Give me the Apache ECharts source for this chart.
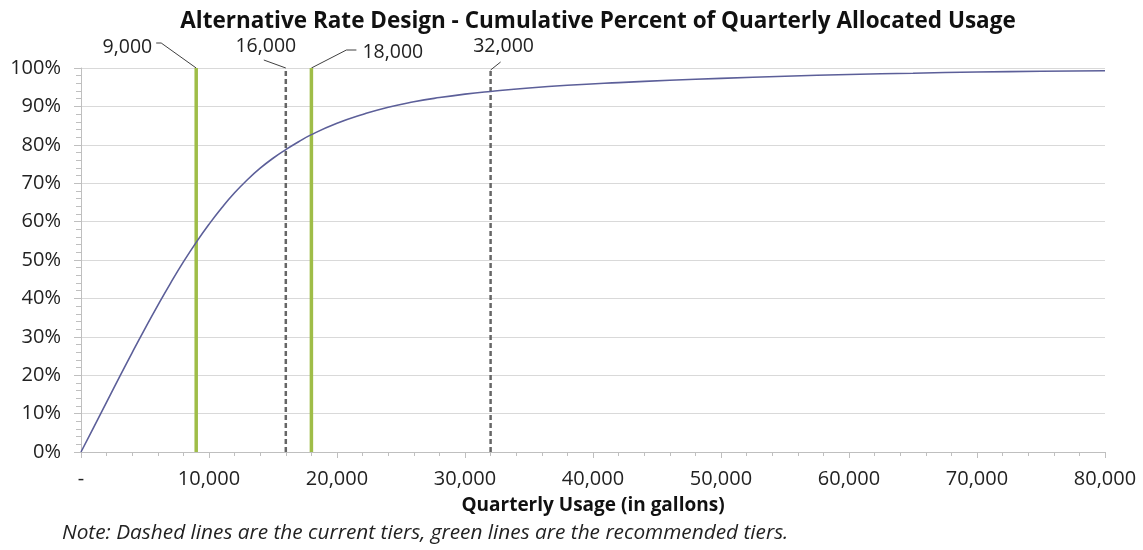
<!DOCTYPE html>
<html>
<head>
<meta charset="utf-8">
<script src="https://cdn.jsdelivr.net/npm/echarts@6/dist/echarts.min.js"></script>
<style>
  html, body { margin: 0; padding: 0; background: #ffffff; }
  #chart { width: 1143px; height: 550px; }
</style>
</head>
<body>
<div id="chart"></div>
<script>
// Quarterly usage (gallons) and cumulative percent of allocated usage
const usageGallons = [0, 1000, 2000, 3000, 4000, 5000, 6000, 7000, 8000, 9000, 10000,
  11000, 12000, 13000, 14000, 15000, 16000, 17000, 18000, 20000, 22000, 24000, 26000,
  28000, 30000, 32000, 35000, 38000, 42000, 46000, 50000, 55000, 60000, 65000, 70000,
  75000, 80000];
const cumulativePct = [0, 6.5, 13.0, 19.5, 25.9, 32.15, 38.2, 44.0, 49.5, 54.6, 59.3,
  63.6, 67.5, 70.9, 73.9, 76.5, 78.75, 80.8, 82.65, 85.6, 87.9, 89.8, 91.2,
  92.3, 93.2, 93.9, 94.8, 95.5, 96.2, 96.8, 97.3, 97.85, 98.3, 98.65, 98.95,
  99.15, 99.3];

// Tier breakpoints
const currentTiers = [16000, 32000];
const recommendedTiers = [9000, 18000];

// Axis ticks
const xTickValues = [0, 10000, 20000, 30000, 40000, 50000, 60000, 70000, 80000];
const yTickValues = [0, 10, 20, 30, 40, 50, 60, 70, 80, 90, 100];

const FONT = '"Open Sans", "Liberation Sans", sans-serif';
const fmt = v => v.toLocaleString('en-US');

const GRID = { left: 81, right: 38, top: 68, bottom: 98 };
const chartWidth = 1143;

const chart = echarts.init(document.getElementById('chart'), null, { renderer: 'canvas' });

function tierSeries(tiers, style) {
  return tiers.map(t => ({
    type: 'line',
    data: [[t, 0], [t, 100]],
    symbol: 'none',
    silent: true,
    z: 3,
    lineStyle: style
  }));
}

const option = {
  backgroundColor: '#ffffff',
  animation: false,
  title: {
    text: 'Alternative Rate Design - Cumulative Percent of Quarterly Allocated Usage',
    // centred over the plot area
    left: GRID.left + (chartWidth - GRID.left - GRID.right) / 2,
    textAlign: 'center',
    top: 5,
    textStyle: { fontFamily: FONT, fontWeight: 'bold', fontSize: 22.5, color: '#111111' }
  },
  grid: GRID,
  xAxis: {
    type: 'value',
    min: xTickValues[0],
    max: xTickValues[xTickValues.length - 1],
    interval: xTickValues[1] - xTickValues[0],
    name: 'Quarterly Usage (in gallons)',
    nameLocation: 'middle',
    nameGap: 44,
    nameTextStyle: { fontFamily: FONT, fontWeight: 'bold', fontSize: 19, color: '#111111' },
    axisLine: { show: true, lineStyle: { color: '#bfbfbf', width: 1 } },
    axisTick: { show: true, length: 6, lineStyle: { color: '#bfbfbf' } },
    minorTick: { show: true, splitNumber: 5, length: 4, lineStyle: { color: '#bfbfbf' } },
    splitLine: { show: false },
    axisLabel: {
      margin: 17,
      fontFamily: FONT, fontSize: 20, color: '#222222',
      formatter: v => (v === 0 ? '-' : fmt(v))
    }
  },
  yAxis: {
    type: 'value',
    min: yTickValues[0],
    max: yTickValues[yTickValues.length - 1],
    interval: yTickValues[1] - yTickValues[0],
    axisLine: { show: true, lineStyle: { color: '#bfbfbf', width: 1 } },
    axisTick: { show: true, length: 7, lineStyle: { color: '#bfbfbf' } },
    minorTick: { show: true, splitNumber: 5, length: 5, lineStyle: { color: '#bfbfbf' } },
    splitLine: { show: true, lineStyle: { color: '#d9d9d9', width: 1 } },
    axisLabel: {
      margin: 20,
      fontFamily: FONT, fontSize: 20, color: '#222222',
      formatter: v => v + '%'
    }
  },
  series: [
    {
      type: 'line',
      data: usageGallons.map((x, i) => [x, cumulativePct[i]]),
      symbol: 'none',
      smooth: 0.5,
      z: 4,
      lineStyle: { color: '#5c5f99', width: 1.6 }
    },
    ...tierSeries(recommendedTiers, { color: '#9fbd48', width: 3.5 }),
    ...tierSeries(currentTiers, { color: '#666666', width: 2.5, type: [5, 3] })
  ]
};

chart.setOption(option);

// Callout labels for each tier: leader line from the top of the tier line to its value
const calloutLayout = {
  9000:  { leader: [[0, 0], [-35, -25], [-40, -25]], text: [-44, -21], align: 'right' },
  16000: { leader: [[0, 0], [-22, -8]], text: [-20, -22], align: 'center' },
  18000: { leader: [[0, 0], [35, -18], [45, -18]], text: [51, -16], align: 'left' },
  32000: { leader: [[0, 2], [10, -6]], text: [13, -22], align: 'center' }
};

const graphics = [];
[...recommendedTiers, ...currentTiers].sort((a, b) => a - b).forEach(t => {
  const top = chart.convertToPixel({ gridIndex: 0 }, [t, 100]);
  const c = calloutLayout[t];
  graphics.push({
    type: 'polyline',
    silent: true,
    shape: { points: c.leader.map(p => [top[0] + p[0], top[1] + p[1]]) },
    style: { stroke: '#404040', lineWidth: 1, fill: null }
  });
  graphics.push({
    type: 'text',
    silent: true,
    x: top[0] + c.text[0],
    y: top[1] + c.text[1],
    style: {
      text: fmt(t),
      fontFamily: FONT, fontSize: 19.5, fill: '#222222',
      align: c.align, verticalAlign: 'middle'
    }
  });
});

graphics.push({
  type: 'text',
  silent: true,
  x: 62,
  y: 533,
  style: {
    text: 'Note: Dashed lines are the current tiers, green lines are the recommended tiers.',
    fontFamily: FONT, fontStyle: 'italic', fontSize: 20.8, fill: '#222222',
    align: 'left', verticalAlign: 'middle'
  }
});

chart.setOption({ graphic: graphics });
</script>
</body>
</html>
